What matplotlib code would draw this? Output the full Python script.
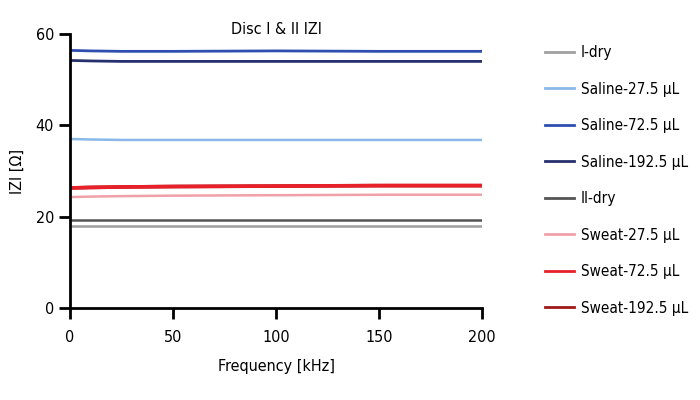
import numpy as np
import matplotlib.pyplot as plt

plt.rcParams['font.family'] = ['DejaVu Sans']
plt.rcParams['font.stretch'] = 'condensed'

# frequency points (kHz) and |Z| readings (ohm)
freq = [1, 10, 25, 50, 100, 150, 200]
i_dry = [18.0, 18.0, 18.0, 18.0, 18.0, 18.0, 18.0]
saline_27 = [37.0, 36.9, 36.8, 36.8, 36.8, 36.8, 36.8]
saline_72 = [56.4, 56.3, 56.2, 56.2, 56.3, 56.2, 56.2]
saline_192 = [54.2, 54.1, 54.0, 54.0, 54.0, 54.0, 54.0]
ii_dry = [19.3, 19.3, 19.3, 19.3, 19.3, 19.3, 19.3]
sweat_27 = [24.3, 24.4, 24.5, 24.6, 24.7, 24.8, 24.8]
sweat_72 = [26.3, 26.4, 26.5, 26.6, 26.7, 26.8, 26.8]
sweat_192 = [26.3, 26.4, 26.5, 26.6, 26.7, 26.8, 26.8]

series = [
    ('I-dry', i_dry, '#a0a0a0', 1.8),
    ('Saline-27.5 µL', saline_27, '#8ab8ea', 1.8),
    ('Saline-72.5 µL', saline_72, '#2f4fb0', 2.0),
    ('Saline-192.5 µL', saline_192, '#27306e', 2.0),
    ('II-dry', ii_dry, '#555555', 1.8),
    ('Sweat-27.5 µL', sweat_27, '#f0a0a8', 1.8),
    ('Sweat-192.5 µL', sweat_192, '#a01818', 2.6),
    ('Sweat-72.5 µL', sweat_72, '#e8202a', 2.6),
]
order = ['I-dry', 'Saline-27.5 µL', 'Saline-72.5 µL', 'Saline-192.5 µL',
         'II-dry', 'Sweat-27.5 µL', 'Sweat-72.5 µL', 'Sweat-192.5 µL']

fig = plt.figure(figsize=(7, 4), dpi=100)
ax = fig.add_axes([0.1, 0.23, 0.589, 0.685])

handles = {}
for name, vals, col, lw in series:
    h, = ax.plot(freq, vals, color=col, lw=lw, label=name)
    handles[name] = h

ax.set_xlim(0, 200)
ax.set_ylim(0, 60)
ax.set_xticks([0, 50, 100, 150, 200])
ax.set_yticks([0, 20, 40, 60])
ax.spines['top'].set_visible(False)
ax.spines['right'].set_visible(False)
ax.spines['left'].set_linewidth(2)
ax.spines['bottom'].set_linewidth(2)
ax.tick_params(width=2, length=8, labelsize=11.5, direction='out')
ax.tick_params(axis='x', pad=8)
ax.set_xlabel('Frequency [kHz]', fontsize=11.5, labelpad=10)
ax.set_ylabel('IZI [Ω]', fontsize=11.5, labelpad=8)
ax.text(0.5, 1.015, 'Disc I & II IZI', transform=ax.transAxes,
        ha='center', va='center', fontsize=11.5)

leg = ax.legend([handles[n] for n in order], order, loc='upper left',
                bbox_to_anchor=(1.153, 0.96), frameon=False, fontsize=11,
                borderpad=0, borderaxespad=0,
                labelspacing=1.41, handlelength=1.85, handletextpad=0.45)
for l in leg.get_lines():
    l.set_linewidth(2)

plt.savefig('out.png', dpi=100)
